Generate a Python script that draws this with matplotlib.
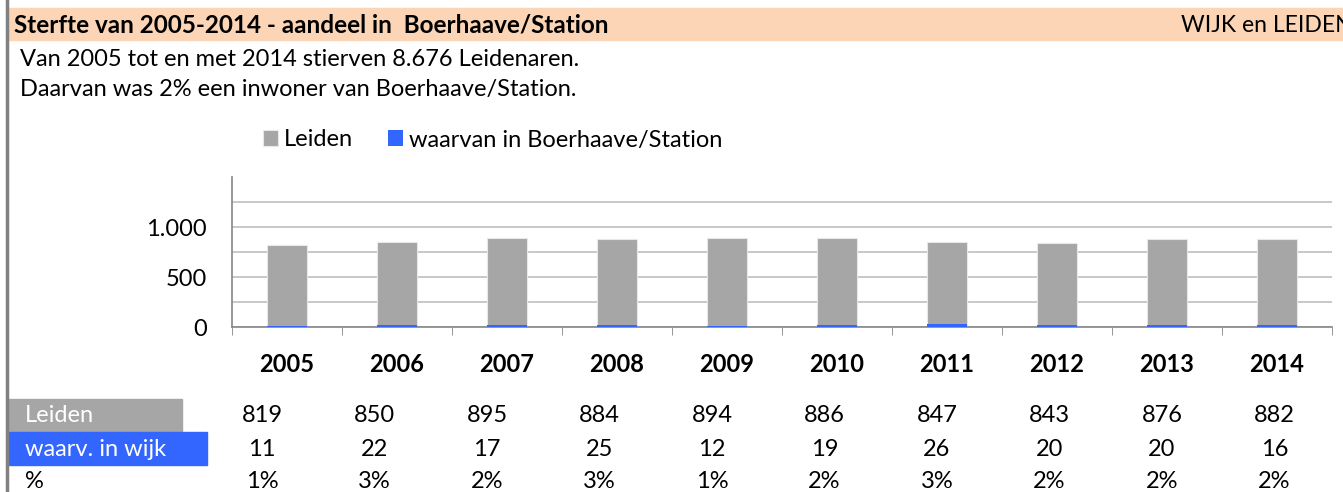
import matplotlib
matplotlib.use("Agg")
import matplotlib.pyplot as plt
from matplotlib.patches import Rectangle
from matplotlib.lines import Line2D

# data
years = ["2005", "2006", "2007", "2008", "2009", "2010", "2011", "2012", "2013", "2014"]
leiden = [819, 850, 895, 884, 894, 886, 847, 843, 876, 882]
wijk = [11, 22, 17, 25, 12, 19, 26, 20, 20, 16]
pct = ["1%", "3%", "2%", "3%", "1%", "2%", "3%", "2%", "2%", "2%"]
ytick_vals = [0, 500, 1000]
ytick_labels = ["0", "500", "1.000"]

GRAY = "#A6A6A6"
BLUE = "#3366FF"
PEACH = "#FBD5B5"
FS = 17

W, H = 1343, 492
plt.rcParams["font.family"] = ["Lato", "DejaVu Sans"]

fig = plt.figure(figsize=(W / 100, H / 100), dpi=100)


def fx(x):
    return x / W


def fy(y):
    return 1 - y / H


def box(x0, y0, x1, y1, color):
    fig.patches.append(Rectangle((fx(x0), fy(y1)), fx(x1) - fx(x0), fy(y0) - fy(y1),
                                 transform=fig.transFigure, color=color, zorder=0))


# header band and left border
box(7, 8, W, 40, PEACH)
fig.lines.append(Line2D([fx(6.5), fx(6.5)], [0, 1], transform=fig.transFigure,
                        color="#808080", lw=2.5))
fig.text(fx(14), fy(25), "Sterfte van 2005-2014 - aandeel in  Boerhaave/Station",
         fontsize=17.5, fontweight="bold", va="center")
# cut off at the right edge, as in the original sheet
fig.text(fx(1181), fy(25), "WIJK en LEIDEN", fontsize=16.5, va="center")
fig.text(fx(20), fy(60), "Van 2005 tot en met 2014 stierven 8.676 Leidenaren.",
         fontsize=FS, va="center")
fig.text(fx(20), fy(90), "Daarvan was 2% een inwoner van Boerhaave/Station.",
         fontsize=FS, va="center")

# chart
ax = fig.add_axes([fx(232), fy(327), fx(1332) - fx(232), fy(177) - fy(327)])
x = range(len(years))
ax.bar(x, leiden, width=0.36, color=GRAY, edgecolor="#E8E8E8", linewidth=0.8,
       label="Leiden", zorder=2)
ax.bar(x, wijk, width=0.36, color=BLUE, label="waarvan in Boerhaave/Station", zorder=3)
ax.set_xlim(-0.5, len(years) - 0.5)
ax.set_ylim(0, 1500)
ax.set_yticks(ytick_vals)
ax.set_yticklabels(ytick_labels)
ax.set_yticks([250, 750, 1250], minor=True)
ax.yaxis.grid(True, which="both", color="#BFBFBF", lw=1.2, zorder=1)
ax.tick_params(axis="y", which="both", length=0, pad=18, labelsize=FS)
ax.set_xticks(list(x))
ax.set_xticklabels(years, fontweight="bold", fontsize=FS)
ax.set_xticks([i - 0.5 for i in range(len(years) + 1)], minor=True)
ax.tick_params(axis="x", which="major", length=0, pad=19)
ax.tick_params(axis="x", which="minor", length=6, color="#868686", direction="out")
for s in ["top", "right"]:
    ax.spines[s].set_visible(False)
for s in ["left", "bottom"]:
    ax.spines[s].set_color("#868686")
    ax.spines[s].set_linewidth(1.2)

fig.legend(loc="center left", bbox_to_anchor=(fx(263), fy(140)), ncol=2, frameon=False,
           fontsize=FS, handlelength=0.63, handleheight=0.63, handletextpad=0.25,
           columnspacing=1.5, borderaxespad=0, borderpad=0)

# table below chart
box(9, 399, 182, 432, GRAY)
box(9, 432, 207, 465, BLUE)
fig.text(fx(25), fy(416), "Leiden", color="white", fontsize=FS, va="center")
fig.text(fx(25), fy(449), "waarv. in wijk", color="white", fontsize=FS, va="center")
fig.text(fx(25), fy(481), "%", fontsize=FS, va="center")
for i in range(len(years)):
    cx = fx(262 + 112.5 * i)
    fig.text(cx, fy(416), str(leiden[i]), fontsize=FS, ha="center", va="center")
    fig.text(cx, fy(449), str(wijk[i]), fontsize=FS, ha="center", va="center")
    fig.text(cx, fy(481), pct[i], fontsize=FS, ha="center", va="center")

fig.savefig("out.png", dpi=100)
